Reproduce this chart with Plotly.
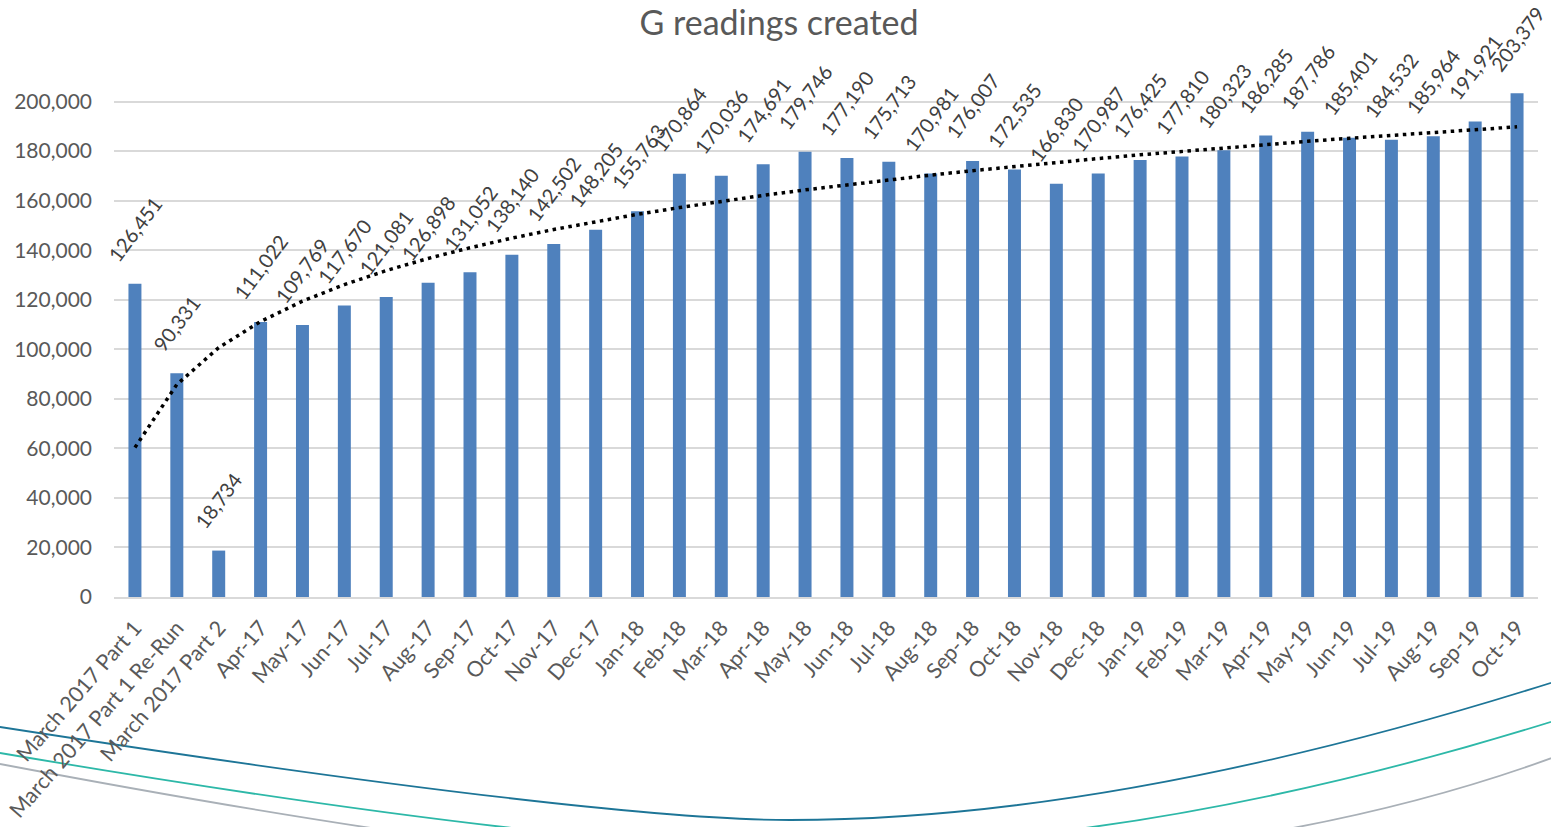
import numpy as np
import plotly.graph_objects as go

categories = ["March 2017 Part 1", "March 2017 Part 1 Re-Run", "March 2017 Part 2",
              "Apr-17", "May-17", "Jun-17", "Jul-17", "Aug-17", "Sep-17", "Oct-17",
              "Nov-17", "Dec-17", "Jan-18", "Feb-18", "Mar-18", "Apr-18", "May-18",
              "Jun-18", "Jul-18", "Aug-18", "Sep-18", "Oct-18", "Nov-18", "Dec-18",
              "Jan-19", "Feb-19", "Mar-19", "Apr-19", "May-19", "Jun-19", "Jul-19",
              "Aug-19", "Sep-19", "Oct-19"]
readings = [126451, 90331, 18734, 111022, 109769, 117670, 121081, 126898, 131052,
            138140, 142502, 148205, 155763, 170864, 170036, 174691, 179746, 177190,
            175713, 170981, 176007, 172535, 166830, 170987, 176425, 177810, 180323,
            186285, 187786, 185401, 184532, 185964, 191921, 203379]
y_ticks = [0, 20000, 40000, 60000, 80000, 100000, 120000, 140000, 160000, 180000, 200000]

# logarithmic trendline (least squares fit, as Excel does)
idx = np.arange(1, len(readings) + 1)
b, a = np.polyfit(np.log(idx), np.array(readings, dtype=float), 1)
trend = a + b * np.log(idx)

FONT = "Lato"
GREY = "#595959"

fig = go.Figure()
fig.add_trace(go.Bar(
    x=categories, y=readings,
    marker=dict(color="#4F81BD", line=dict(width=0)),
    showlegend=False,
))
fig.add_trace(go.Scatter(
    x=categories, y=trend, mode="lines",
    line=dict(color="black", width=3.5, dash="3.5px,4.5px"),
    showlegend=False, hoverinfo="skip",
))

# data labels, rotated, a little above each bar
annotations = [dict(x=c, y=v, xref="x", yref="y", text=f"{v:,}", showarrow=False,
                    textangle=-53, xanchor="center", yanchor="bottom", yshift=15,
                    font=dict(family=FONT, size=20, color="#404040"))
               for c, v in zip(categories, readings)]

# plot area geometry in pixels (page body margin removed below)
W, H = 1551, 827
L, R, T, B = 114, 13, 52, 230
pw, ph = W - L - R, H - T - B

def px(x):
    return (x - L) / pw

def py(y):
    return (H - B - y) / ph

def curve(pts):
    (x0, y0), (c1x, c1y), (x1, y1), (c2x, c2y), (x2, y2) = pts
    return (f"M {px(x0):.4f},{py(y0):.4f} Q {px(c1x):.4f},{py(c1y):.4f} {px(x1):.4f},{py(y1):.4f} "
            f"Q {px(c2x):.4f},{py(c2y):.4f} {px(x2):.4f},{py(y2):.4f}")

deco = [
    ([(0, 727), (600, 820), (790, 820), (1120, 820), (1560, 680)], "#1D7597"),
    ([(0, 753), (560, 848), (800, 848), (1150, 848), (1560, 719)], "#2DB8A8"),
    ([(0, 764), (560, 870), (800, 870), (1250, 870), (1560, 755)], "#A9B0B7"),
]
shapes = [dict(type="path", xref="paper", yref="paper", path=curve(p),
               line=dict(color=c, width=1.8), layer="below") for p, c in deco]

fig.update_layout(
    width=W, height=H,
    margin=dict(l=L, r=R, t=T, b=B, autoexpand=False),
    paper_bgcolor="white", plot_bgcolor="white",
    bargap=0.69,
    shapes=shapes,
    annotations=annotations,
    title=dict(text="G readings created", x=779 / W, xanchor="center",
               y=1 - 23 / H, yref="container", yanchor="middle",
               font=dict(family=FONT, size=34, color=GREY)),
    xaxis=dict(type="category", tickangle=-49,
               tickfont=dict(family=FONT, size=21.5, color=GREY),
               showline=True, linecolor="#D9D9D9", linewidth=1.5,
               showgrid=False, ticks="", ticklabelstandoff=8,
               range=[-0.5, len(categories) - 0.5]),
    yaxis=dict(range=[0, 220000], tickvals=y_ticks,
               ticktext=[f"{v:,}" for v in y_ticks],
               tickfont=dict(family=FONT, size=21, color=GREY),
               showgrid=True, gridcolor="#D9D9D9", gridwidth=1.5,
               zeroline=False, showline=False, ticks="", ticklabelstandoff=21),
    font=dict(family=FONT, color=GREY),
)

fig.write_html("out.html", config={"displayModeBar": False},
               post_script="document.body.style.margin='0px';document.body.style.overflow='hidden';")
